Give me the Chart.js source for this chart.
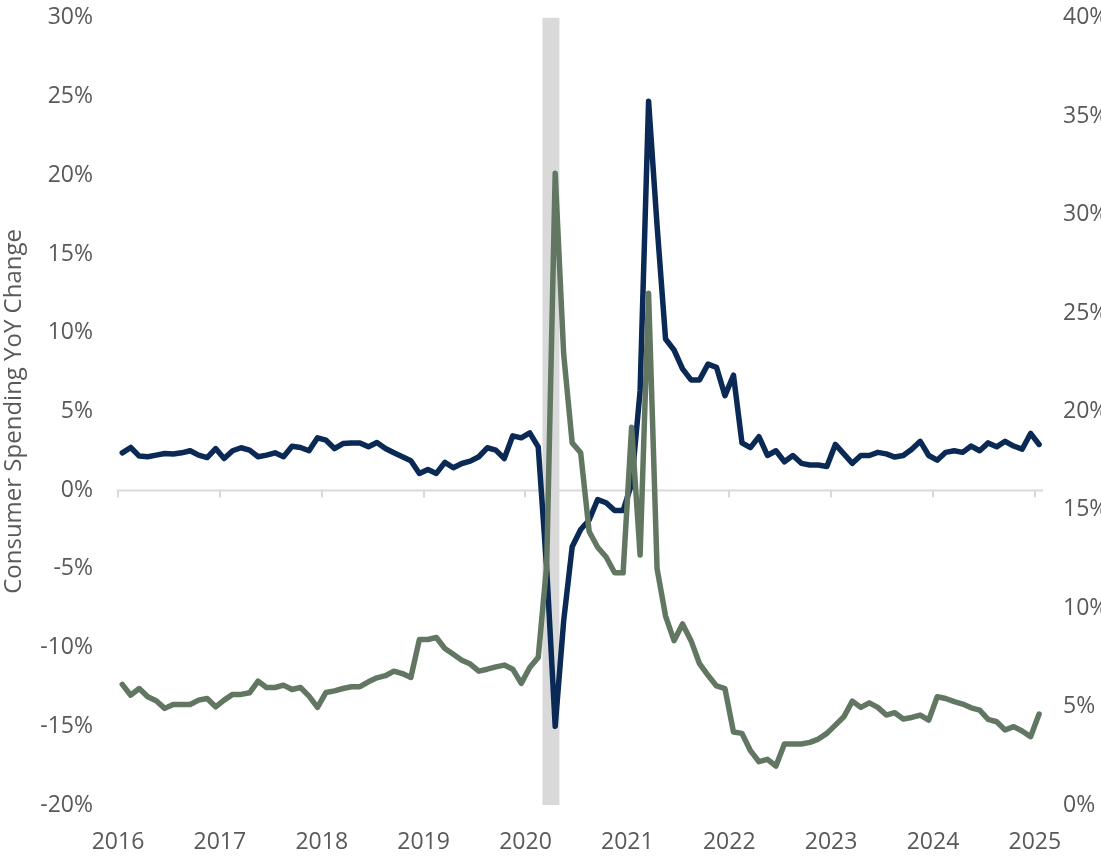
<!DOCTYPE html>
<html>
<head>
<meta charset="utf-8">
<script src="https://cdn.jsdelivr.net/npm/chart.js@4.4.1/dist/chart.umd.min.js"></script>
<style>
  html, body { margin: 0; padding: 0; background: #fff; overflow: hidden; }
  #wrap { width: 1130px; height: 861px; overflow: hidden; }
  #myChart { display: block; margin-top: -13px; }
</style>
</head>
<body>
<div id="wrap"><canvas id="myChart" width="1130" height="874"></canvas></div>
<script>
const ctx = document.getElementById('myChart'); // Canvas the chart is drawn on

// Monthly series, Jan 2016 through Jan 2025
const firstMonth = '2016-01';
const yearTicks = [2016, 2017, 2018, 2019, 2020, 2021, 2022, 2023, 2024, 2025];

// Consumer spending, YoY % change (left axis)
const spendingYoY = [
  2.37, 2.71, 2.16, 2.12, 2.22, 2.33, 2.29, 2.37, 2.50, 2.22, 2.07, 2.64,
  2.01, 2.50, 2.69, 2.54, 2.12, 2.22, 2.37, 2.12, 2.79, 2.71, 2.50, 3.32,
  3.17, 2.64, 2.96, 3.00, 3.00, 2.75, 3.02, 2.64, 2.37, 2.12, 1.86, 1.06,
  1.31, 1.06, 1.76, 1.42, 1.69, 1.84, 2.12, 2.69, 2.54, 2.01, 3.45, 3.32,
  3.64, 2.75, -5.0, -15.0, -8.3, -3.6, -2.5, -1.9, -0.6, -0.8, -1.3, -1.3,
  0.4, 6.3, 24.7, 16.8, 9.6, 8.9, 7.7, 7.0, 7.0, 8.0, 7.8, 6.0,
  7.3, 3.0, 2.7, 3.4, 2.2, 2.5, 1.8, 2.2, 1.7, 1.6, 1.6, 1.5,
  2.9, 2.3, 1.7, 2.2, 2.2, 2.4, 2.3, 2.1, 2.2, 2.6, 3.1, 2.2,
  1.9, 2.4, 2.5, 2.4, 2.8, 2.5, 3.0, 2.75, 3.1, 2.8, 2.6, 3.6,
  2.9
];

// Personal savings rate, % (right axis)
const savingsRate = [
  6.13, 5.58, 5.92, 5.50, 5.30, 4.91, 5.11, 5.11, 5.11, 5.33, 5.41, 4.99,
  5.33, 5.62, 5.62, 5.70, 6.29, 5.97, 5.97, 6.09, 5.87, 5.97, 5.53, 4.96,
  5.72, 5.80, 5.92, 6.01, 6.01, 6.26, 6.46, 6.57, 6.80, 6.68, 6.48, 8.41,
  8.41, 8.51, 7.95, 7.66, 7.36, 7.16, 6.80, 6.90, 7.02, 7.11, 6.90, 6.18,
  6.99, 7.50, 12.2, 32.1, 22.9, 18.4, 17.9, 13.9, 13.1, 12.6, 11.8, 11.8,
  19.2, 12.7, 26.0, 12.0, 9.6, 8.35, 9.2, 8.35, 7.18, 6.59, 6.05, 5.91,
  3.71, 3.64, 2.76, 2.20, 2.32, 1.98, 3.10, 3.10, 3.10, 3.18, 3.35, 3.64,
  4.06, 4.48, 5.28, 4.96, 5.19, 4.96, 4.57, 4.69, 4.37, 4.45, 4.57, 4.31,
  5.50, 5.41, 5.25, 5.13, 4.94, 4.82, 4.35, 4.23, 3.81, 3.98, 3.76, 3.47,
  4.62
];

// Recession months (shaded)
const recessions = [['2020-03', '2020-04']];

// Build the list of month labels from the first month
const months = [];
for (let i = 0; i < spendingYoY.length; i++) {
  const y = Number(firstMonth.slice(0, 4)) + Math.floor(i / 12);
  const m = (i % 12) + 1;
  months.push(y + '-' + String(m).padStart(2, '0'));
}

// 'YYYY-MM' -> decimal year (start of month)
function monthStart(label) {
  return Number(label.slice(0, 4)) + (Number(label.slice(5, 7)) - 1) / 12;
}
// points sit in the middle of their month
function monthMid(label) {
  return monthStart(label) + 0.5 / 12;
}

const textColor = '#595959';
Chart.defaults.font.family = "'Open Sans', 'Noto Sans', sans-serif";
Chart.defaults.color = textColor;

// Shaded recession band, drawn under the lines
const recessionBand = {
  id: 'recessionBand',
  beforeDatasetsDraw(chart) {
    const { ctx, chartArea, scales } = chart;
    ctx.save();
    ctx.fillStyle = '#d9d9d9';
    recessions.forEach(([from, to]) => {
      const x1 = scales.x.getPixelForValue(monthStart(from));
      const x2 = scales.x.getPixelForValue(monthStart(to) + 1 / 12);
      ctx.fillRect(x1, chartArea.top, x2 - x1, chartArea.bottom - chartArea.top);
    });
    ctx.restore();
  }
};

// Horizontal axis line crossing at 0% with year tick marks
const zeroAxis = {
  id: 'zeroAxis',
  beforeDatasetsDraw(chart) {
    const { ctx, chartArea, scales } = chart;
    const y0 = Math.round(scales.y.getPixelForValue(0)) + 0.5;
    ctx.save();
    ctx.strokeStyle = '#d9d9d9';
    ctx.lineWidth = 2;
    ctx.beginPath();
    ctx.moveTo(chartArea.left - 1, y0);
    ctx.lineTo(chartArea.right, y0);
    yearTicks.forEach(yr => {
      const x = Math.round(scales.x.getPixelForValue(yr));
      ctx.moveTo(x, y0);
      ctx.lineTo(x, y0 + 7);
    });
    ctx.stroke();
    ctx.restore();
  }
};

const myChart = new Chart(ctx, {
  type: 'line',
  data: {
    datasets: [
      {
        label: 'Personal Savings Rate',
        data: months.map((m, i) => ({ x: monthMid(m), y: savingsRate[i] })),
        yAxisID: 'y2',
        borderColor: '#627762',
        borderWidth: 5.5,
        borderJoinStyle: 'round',
        borderCapStyle: 'round',
        pointRadius: 0,
        tension: 0
      },
      {
        label: 'Consumer Spending YoY Change',
        data: months.map((m, i) => ({ x: monthMid(m), y: spendingYoY[i] })),
        yAxisID: 'y',
        borderColor: '#0a2a55',
        borderWidth: 5.5,
        borderJoinStyle: 'round',
        borderCapStyle: 'round',
        pointRadius: 0,
        tension: 0
      }
    ]
  },
  plugins: [recessionBand, zeroAxis],
  options: {
    responsive: false,
    animation: false,
    layout: { padding: { top: 0, bottom: 0, left: 0, right: 0 } },
    plugins: {
      legend: { display: false },
      tooltip: { enabled: false }
    },
    scales: {
      x: {
        type: 'linear',
        position: 'bottom',
        min: 2016,
        max: 2025.08,
        afterBuildTicks: scale => { scale.ticks = yearTicks.map(v => ({ value: v })); },
        afterFit: scale => { scale.height = 56; },
        grid: { display: false },
        border: { display: false },
        ticks: {
          padding: 16,
          maxRotation: 0,
          autoSkip: false,
          font: { size: 23 },
          callback: v => String(v)
        }
      },
      y: {
        position: 'left',
        min: -20,
        max: 30,
        afterFit: scale => { scale.width = 118; },
        grid: { display: false },
        border: { display: false },
        ticks: {
          stepSize: 5,
          padding: 17,
          font: { size: 23 },
          callback: v => v + '%'
        },
        title: {
          display: true,
          text: 'Consumer Spending YoY Change',
          font: { size: 24 },
          padding: 0
        }
      },
      y2: {
        position: 'right',
        min: 0,
        max: 40,
        afterFit: scale => { scale.width = 87; },
        grid: { display: false },
        border: { display: false },
        ticks: {
          stepSize: 5,
          padding: 12,
          font: { size: 23 },
          callback: v => v + '%'
        }
      }
    }
  }
});
</script>
</body>
</html>
